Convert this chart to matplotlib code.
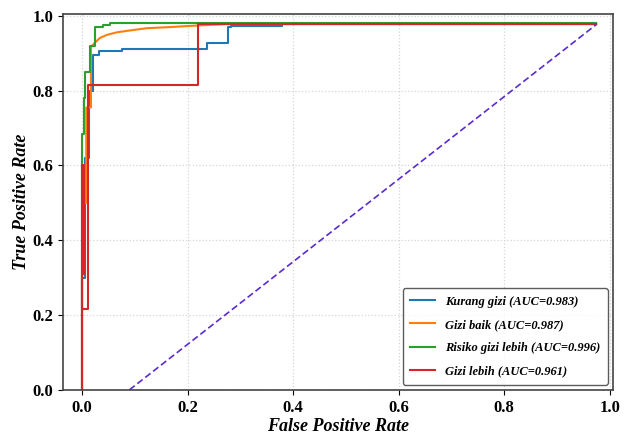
import numpy as np
import matplotlib.pyplot as plt

plt.rcParams['font.family'] = ['Liberation Serif', 'DejaVu Serif']

# ROC steps (fpr, tpr)
kurang_fpr = [0.0, 0.0, 0.006, 0.006, 0.013, 0.013, 0.02, 0.02, 0.033, 0.033, 0.075, 0.075,
              0.236, 0.236, 0.277, 0.277, 0.283, 0.283, 0.38, 0.38, 0.975]
kurang_tpr = [0.0, 0.30, 0.30, 0.62, 0.62, 0.80, 0.80, 0.895, 0.895, 0.905, 0.905, 0.911,
              0.911, 0.927, 0.927, 0.97, 0.97, 0.973, 0.973, 0.977, 0.977]

baik_fpr = [0.0, 0.0, 0.008, 0.008, 0.017, 0.017, 0.025, 0.034, 0.047, 0.066, 0.091, 0.123,
            0.167, 0.217, 0.274, 0.975]
baik_tpr = [0.0, 0.50, 0.50, 0.755, 0.755, 0.917, 0.929, 0.941, 0.949, 0.956, 0.961, 0.967,
            0.970, 0.974, 0.978, 0.978]

risiko_fpr = [0.0, 0.0, 0.004, 0.004, 0.006, 0.006, 0.0145, 0.0145, 0.024, 0.024, 0.04, 0.04,
              0.053, 0.053, 0.975]
risiko_tpr = [0.0, 0.684, 0.684, 0.78, 0.78, 0.85, 0.85, 0.92, 0.92, 0.97, 0.97, 0.976,
              0.976, 0.981, 0.981]

lebih_fpr = [0.0, 0.0, 0.003, 0.003, 0.0, 0.0, 0.011, 0.011, 0.22, 0.22, 0.975]
lebih_tpr = [0.0, 0.31, 0.31, 0.60, 0.60, 0.215, 0.215, 0.815, 0.815, 0.977, 0.977]

diag_x = [0.09, 0.975]
diag_y = [0.0, 0.977]

labels = ['Kurang gizi (AUC=0.983)', 'Gizi baik (AUC=0.987)',
          'Risiko gizi lebih (AUC=0.996)', 'Gizi lebih (AUC=0.961)']
colors = ['#1f77b4', '#ff7f0e', '#2ca02c', '#d62728']

fig = plt.figure(figsize=(6.24, 4.37), dpi=100)
ax = fig.add_axes([0.101, 0.108, 0.881, 0.86])

curves = [(kurang_fpr, kurang_tpr), (baik_fpr, baik_tpr),
          (risiko_fpr, risiko_tpr), (lebih_fpr, lebih_tpr)]
for (fx, fy), lab, c in zip(curves, labels, colors):
    ax.plot(fx, fy, color=c, lw=1.5, label=lab)

ax.plot(diag_x, diag_y, color='#5a2bd0', lw=1.2, ls=(0, (4, 2)))

ax.set_xlim(-0.036, 1.006)
ax.set_ylim(0.0, 1.005)
ticks = np.arange(0, 1.01, 0.2)
ax.set_xticks(ticks)
ax.set_yticks(ticks)
ax.set_xticklabels([f'{v:.1f}' for v in ticks], fontweight='bold', fontsize=12)
ax.set_yticklabels([f'{v:.1f}' for v in ticks], fontweight='bold', fontsize=12)
ax.grid(True, ls=':', color='#d5d5d5', lw=0.9)
for s in ax.spines.values():
    s.set_color('#444444')
    s.set_linewidth(1.2)

ax.set_xlabel('False Positive Rate', fontsize=13, fontweight='bold', fontstyle='italic', labelpad=2)
ax.set_ylabel('True Positive Rate', fontsize=13, fontweight='bold', fontstyle='italic', labelpad=2)

leg = ax.legend(loc='lower right', prop={'size': 9, 'weight': 'bold', 'style': 'italic'},
                frameon=True, edgecolor='#333333', fancybox=True, borderaxespad=0.4,
                handlelength=2.0, labelspacing=0.9, borderpad=0.6)
leg.get_frame().set_linewidth(1.0)

fig.savefig('out.png', dpi=100)
